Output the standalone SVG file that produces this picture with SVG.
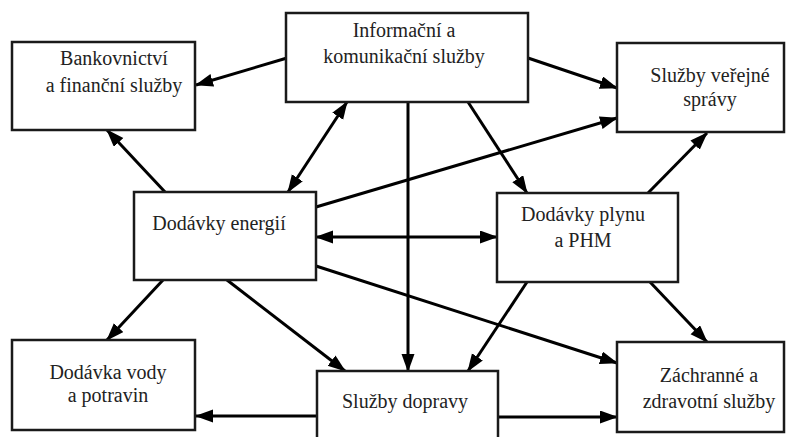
<svg xmlns="http://www.w3.org/2000/svg" width="789" height="437" viewBox="0 0 789 437">
  <style>
    .box { fill: #ffffff; stroke: #1a1a1a; stroke-width: 2.5; }
    .lbl { font-family: 'Liberation Serif', 'Times New Roman', serif; font-size: 20px; fill: #222222; text-anchor: middle; }
    .edge { stroke: #000000; stroke-width: 3; fill: none; marker-end: url(#arrow); }
    .both { marker-start: url(#arrow); }
  </style>
  <defs>
    <marker id="arrow" markerUnits="userSpaceOnUse" markerWidth="19" markerHeight="14" refX="17" refY="6.5" orient="auto-start-reverse">
      <path d="M0,0 L18,6.5 L0,13 Z" fill="#000000"/>
    </marker>
  </defs>
  <rect width="789" height="437" fill="#ffffff"/>

  <!-- connectors -->
  <g id="connectors">
    <line class="edge" x1="287" y1="58" x2="196" y2="85"/>
    <line class="edge" x1="528" y1="58" x2="617" y2="88"/>
    <line class="edge both" x1="288" y1="192" x2="347" y2="102"/>
    <line class="edge" x1="408" y1="102" x2="408" y2="371"/>
    <line class="edge" x1="468" y1="102" x2="527" y2="193"/>
    <line class="edge" x1="165" y1="192" x2="107" y2="130"/>
    <line class="edge" x1="316" y1="207" x2="617" y2="118"/>
    <line class="edge both" x1="316" y1="237" x2="497" y2="237"/>
    <line class="edge" x1="648" y1="193" x2="707" y2="133"/>
    <line class="edge" x1="163" y1="280" x2="107" y2="340"/>
    <line class="edge" x1="227" y1="280" x2="345" y2="371"/>
    <line class="edge" x1="316" y1="266" x2="617" y2="363"/>
    <line class="edge" x1="527" y1="282" x2="468" y2="371"/>
    <line class="edge" x1="650" y1="282" x2="707" y2="342"/>
    <line class="edge" x1="317" y1="416" x2="196" y2="416"/>
    <line class="edge" x1="498" y1="417" x2="617" y2="417"/>
  </g>

  <!-- nodes -->
  <g id="node-info">
    <rect class="box" x="286" y="13" width="242" height="89"/>
    <text class="lbl" x="404" y="37">Informační a</text>
    <text class="lbl" x="404" y="63">komunikační služby</text>
  </g>
  <g id="node-bank">
    <rect class="box" x="12" y="42" width="183" height="88"/>
    <text class="lbl" x="114" y="65">Bankovnictví</text>
    <text class="lbl" x="114" y="92">a finanční služby</text>
  </g>
  <g id="node-sprava">
    <rect class="box" x="617" y="43" width="167" height="89"/>
    <text class="lbl" x="710" y="82">Služby veřejné</text>
    <text class="lbl" x="710" y="106">správy</text>
  </g>
  <g id="node-energie">
    <rect class="box" x="134" y="192" width="182" height="88"/>
    <text class="lbl" x="219" y="230">Dodávky energií</text>
  </g>
  <g id="node-plyn">
    <rect class="box" x="497" y="193" width="181" height="89"/>
    <text class="lbl" x="583" y="221">Dodávky plynu</text>
    <text class="lbl" x="583" y="247">a PHM</text>
  </g>
  <g id="node-voda">
    <rect class="box" x="12" y="340" width="183" height="90"/>
    <text class="lbl" x="108" y="379">Dodávka vody</text>
    <text class="lbl" x="108" y="402">a potravin</text>
  </g>
  <g id="node-doprava">
    <rect class="box" x="317" y="371" width="181" height="72"/>
    <text class="lbl" x="405" y="408">Služby dopravy</text>
  </g>
  <g id="node-zachranne">
    <rect class="box" x="617" y="342" width="167" height="90"/>
    <text class="lbl" x="709" y="382">Záchranné a</text>
    <text class="lbl" x="709" y="408">zdravotní služby</text>
  </g>
</svg>
